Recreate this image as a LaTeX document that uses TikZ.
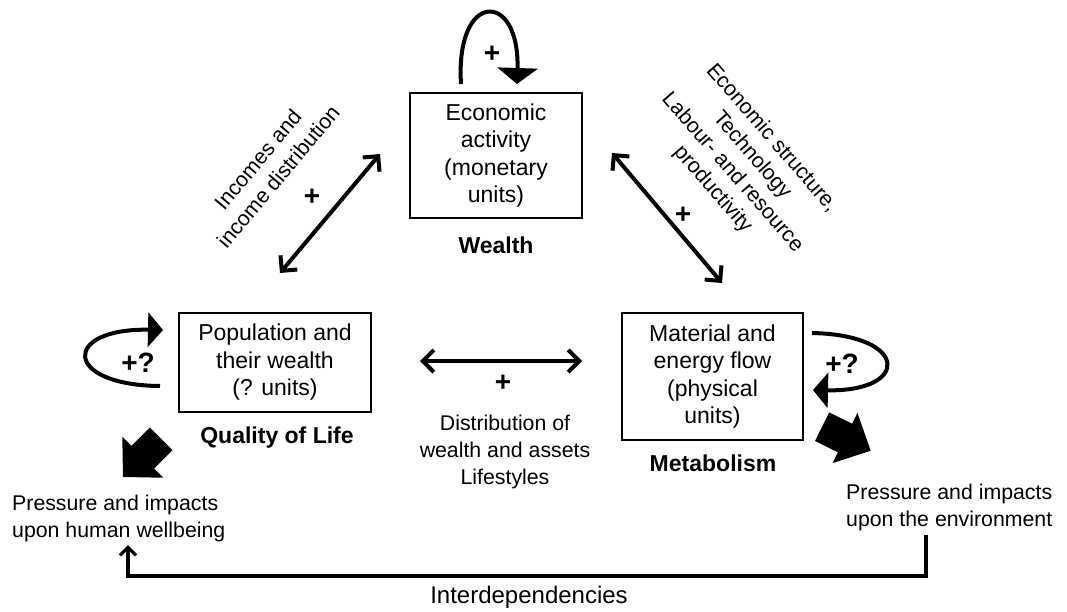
\documentclass[tikz,border=0pt]{standalone}
\usepackage{fontspec}
\setmainfont{Liberation Sans}
\usetikzlibrary{arrows.meta}
\begin{document}
\begin{tikzpicture}[x=1pt,y=-1pt,
  box/.style={draw, line width=1.3pt, inner sep=0pt, align=center, font=\fontsize{23}{27.5}\selectfont},
  lbl/.style={align=center, inner sep=0pt, font=\fontsize{21.3}{26.7}\selectfont},
  ttl/.style={inner sep=0pt, font=\fontsize{23}{27}\selectfont\bfseries},
  plus/.style={inner sep=0pt, font=\fontsize{28}{30}\selectfont\bfseries},
  dbl/.style={line width=4pt, {Straight Barb[length=11pt,width=22pt]}-{Straight Barb[length=11pt,width=22pt]}},
  selfloop/.style={line width=4pt},
  blockarrow/.style={fill=black, draw=none}
]
\useasboundingbox (0,0) rectangle (1067,611);

% boxes
\node[box, minimum width=172pt, minimum height=125pt] (wealth) at (496,155.5) {Economic\\activity\\(monetary\\units)};
\node[box, minimum width=192pt, minimum height=99pt] (pop) at (275,362.5) {Population and\\their wealth\\(? units)};
\node[box, minimum width=181pt, minimum height=127pt] (mat) at (712.5,376.5) {Material and\\energy flow\\(physical\\units)};

% titles
\node[ttl] (wl) at (496,245) {Wealth};
\node[ttl] (ql) at (277,438) {Quality of Life};
\node[ttl] (ml) at (713,463) {Metabolism};

% plus signs
\node[plus] (p1) at (492,54) {+};
\node[plus] (p2) at (312,197) {+};
\node[plus] (p3) at (683,215) {+};
\node[plus] (p4) at (503,383) {+};
\node[plus] (p5) at (138,363) {+?};
\node[plus] (p6) at (842,364) {+?};

% labels
\node[lbl] (dist) at (505,452) {Distribution of\\wealth and assets\\Lifestyles};
\node[lbl, rotate=50] (inc) at (268,168) {Incomes and\\income distribution};
\node[lbl, rotate=-49, font=\fontsize{21.3}{26}\selectfont] (eco) at (742,164) {Economic structure,\\Technology\\Labour- and resource\\productivity};
\node[lbl, align=left, anchor=west] (hum) at (12,518.5) {Pressure and impacts\\upon human wellbeing};
\node[lbl, align=left, anchor=west] (env) at (846,507.5) {Pressure and impacts\\upon the environment};
\node[inner sep=0pt, font=\fontsize{24}{28}\selectfont] (inter) at (529,597) {Interdependencies};

% double arrows
\coordinate (wA) at (380,154);
\coordinate (pA) at (280,273);
\coordinate (wB) at (612,153);
\coordinate (mB) at (722,283);
\coordinate (pC) at (420,361);
\coordinate (mC) at (582,361);
\draw[dbl] (pA) -- (wA);
\draw[dbl] (wB) -- (mB);
\draw[dbl] (pC) -- (mC);

% self loops
\coordinate (t1) at (461,84);
\coordinate (t2) at (517,84);
\draw[selfloop, -{Triangle[length=16pt,width=40pt]}] (t1) .. controls (455,-10) and (520,-10) .. (t2);
\coordinate (l1) at (160,386);
\coordinate (l2) at (163,330);
\draw[selfloop, -{Triangle[length=15pt,width=34pt]}] (l1) .. controls (62,385) and (62,328) .. (l2);
\coordinate (r1) at (812,333);
\coordinate (r2) at (813,390);
\draw[selfloop, -{Triangle[length=15pt,width=35pt]}] (r1) .. controls (910,335) and (910,392) .. (r2);

% block arrows
\fill[blockarrow] (123,477) -- (122.3,436.7) -- (131.5,445.9) -- (149.9,427.5) -- (172.5,450.1) -- (154.1,468.5) -- (163.3,477.7) -- cycle;
\fill[blockarrow] (870.7,450.7) -- (857.4,412.9) -- (852.1,423.7) -- (829.2,412.4) -- (815,441) -- (837.9,452.3) -- (832.6,463.1) -- cycle;

% interdependencies
\coordinate (iA) at (926,535);
\coordinate (iB) at (128,545);
\draw[line width=3.2pt, -{Straight Barb[length=8pt,width=16pt]}] (iA) -- ++(0,41) -| (iB);
\end{tikzpicture}
\end{document}
